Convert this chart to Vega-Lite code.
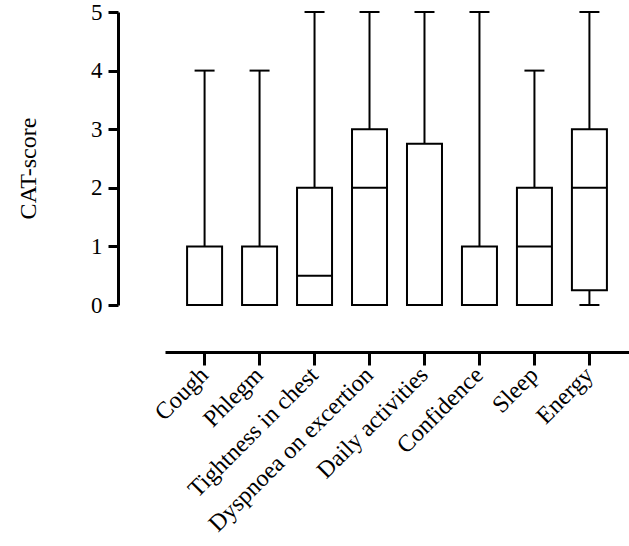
{
  "$schema": "https://vega.github.io/schema/vega-lite/v6.json",
  "autosize": "none",
  "width": 464,
  "height": 293,
  "padding": {"left": 165, "top": 12, "right": 0, "bottom": 241},
  "background": "white",
  "config": {
    "view": {"stroke": null},
    "font": "Liberation Serif",
    "axis": {
      "labelFont": "Liberation Serif",
      "titleFont": "Liberation Serif",
      "labelColor": "black",
      "titleColor": "black",
      "domainColor": "black",
      "tickColor": "black",
      "domainWidth": 3,
      "tickWidth": 3,
      "grid": false,
      "offset": 47,
      "titleFontWeight": "normal"
    },
    "axisX": {
      "labelFontSize": 24,
      "tickSize": 13,
      "labelAngle": -45,
      "labelPadding": 6,
      "labelLimit": 300
    },
    "axisY": {
      "labelFontSize": 23,
      "tickSize": 10,
      "labelPadding": 6,
      "titleFontSize": 24,
      "titlePadding": 50,
      "titleY": 156
    }
  },
  "data": {
    "values": [
      {"item": "Cough", "min": 0, "q1": 0, "median": 0, "q3": 1, "max": 4},
      {"item": "Phlegm", "min": 0, "q1": 0, "median": 0, "q3": 1, "max": 4},
      {"item": "Tightness in chest", "min": 0, "q1": 0, "median": 0.5, "q3": 2, "max": 5},
      {"item": "Dyspnoea on excertion", "min": 0, "q1": 0, "median": 2, "q3": 3, "max": 5},
      {"item": "Daily activities", "min": 0, "q1": 0, "median": 0, "q3": 2.75, "max": 5},
      {"item": "Confidence", "min": 0, "q1": 0, "median": 0, "q3": 1, "max": 5},
      {"item": "Sleep", "min": 0, "q1": 0, "median": 1, "q3": 2, "max": 4},
      {"item": "Energy", "min": 0, "q1": 0.25, "median": 2, "q3": 3, "max": 5}
    ]
  },
  "encoding": {
    "x": {
      "field": "item",
      "type": "nominal",
      "sort": null,
      "scale": {"paddingInner": 0, "paddingOuter": 0.22},
      "axis": {"title": null, "labelAngle": -45, "labelAlign": "right", "labelBaseline": "middle"}
    }
  },
  "layer": [
    {
      "mark": {"type": "rule", "stroke": "black", "strokeWidth": 2},
      "encoding": {
        "y": {
          "field": "min",
          "type": "quantitative",
          "scale": {"domain": [0, 5], "nice": false},
          "axis": {"title": "CAT-score", "values": [0, 1, 2, 3, 4, 5], "format": "d"}
        },
        "y2": {"field": "max"}
      }
    },
    {
      "mark": {"type": "tick", "color": "black", "opacity": 1, "thickness": 2, "size": 20, "orient": "horizontal"},
      "encoding": {"y": {"field": "max", "type": "quantitative"}}
    },
    {
      "mark": {"type": "tick", "color": "black", "opacity": 1, "thickness": 2, "size": 20, "orient": "horizontal"},
      "encoding": {"y": {"field": "min", "type": "quantitative"}}
    },
    {
      "mark": {"type": "bar", "fill": "white", "stroke": "black", "strokeWidth": 2, "size": 35, "opacity": 1},
      "encoding": {
        "y": {"field": "q1", "type": "quantitative"},
        "y2": {"field": "q3"}
      }
    },
    {
      "mark": {"type": "tick", "color": "black", "opacity": 1, "thickness": 2, "size": 35, "orient": "horizontal"},
      "encoding": {"y": {"field": "median", "type": "quantitative"}}
    }
  ]
}
